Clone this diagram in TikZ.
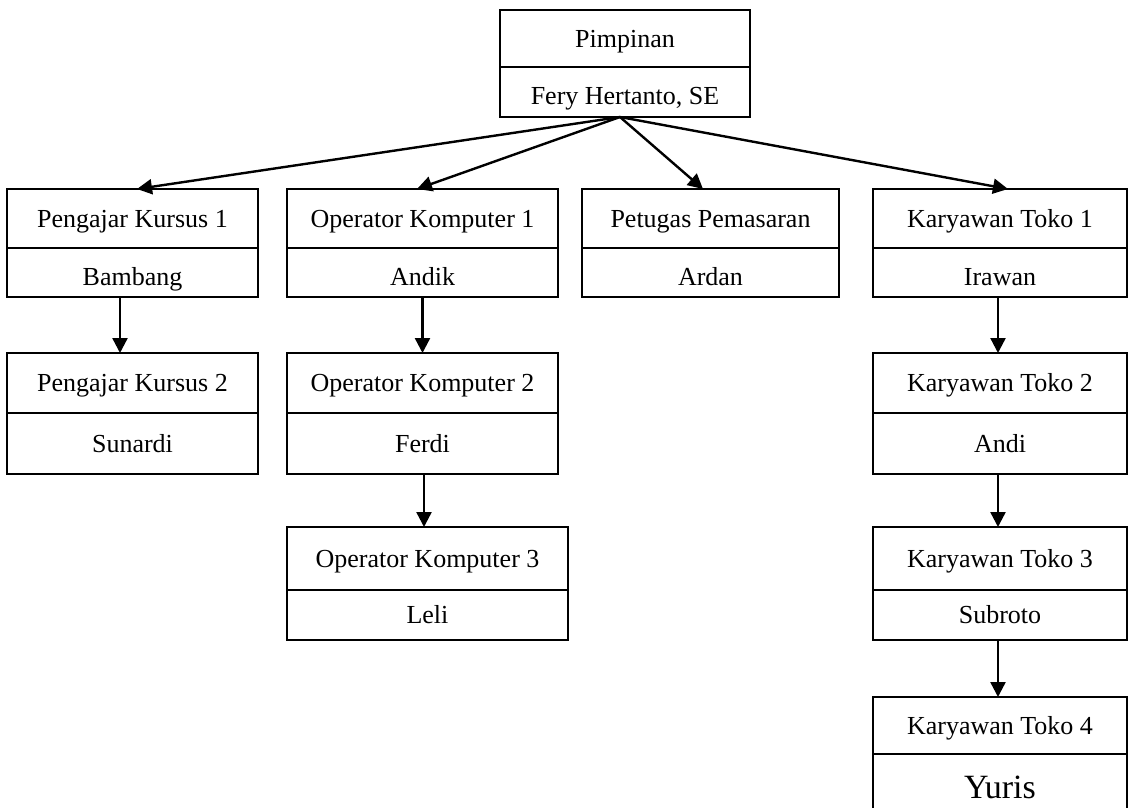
\documentclass[tikz,border=0pt]{standalone}
\usepackage{fontspec}
\setmainfont{Liberation Serif}
\usetikzlibrary{positioning, arrows.meta}
\tikzstyle{jabatan} = [rectangle, minimum height=59pt, inner sep=0pt, outer sep=0pt, text height=17.2pt, text depth=0pt, text centered, draw=black, line width=2pt, fill=white, font=\fontsize{26}{31}\selectfont]
\tikzstyle{nama} = [jabatan, minimum height=49pt]
\tikzstyle{namabawah} = [nama, text height=25pt]
\tikzstyle{kolpimpinan} = [minimum width=250pt]
\tikzstyle{kolkursus} = [minimum width=251pt]
\tikzstyle{kolkomputer} = [minimum width=271pt]
\tikzstyle{kolpemasaran} = [minimum width=257pt]
\tikzstyle{koltoko} = [minimum width=254pt]
\tikzstyle{arrow} = [line width=2.4pt,-{Triangle[length=15pt,width=15pt]}]
\begin{document}
\begin{tikzpicture}[x=1pt, y=1pt]
		\useasboundingbox (0,0) rectangle (1128,-808);
		
		\node (pimpinan) [jabatan, kolpimpinan, minimum height=57pt] at (625,-38.5) {Pimpinan};
		\node (fery) [namabawah, kolpimpinan, minimum height=50pt, below=0pt of pimpinan] {Fery Hertanto, SE};
		
		\node (pk1) [jabatan, kolkursus] at (132.5,-218.5) {Pengajar Kursus 1};
		\node (bambang) [namabawah, kolkursus, below=0pt of pk1] {Bambang};
		\node (ok1) [jabatan, kolkomputer, right=29pt of pk1] {Operator Komputer 1};
		\node (andik) [namabawah, kolkomputer, below=0pt of ok1] {Andik};
		\node (pp) [jabatan, kolpemasaran, right=24pt of ok1] {Petugas Pemasaran};
		\node (ardan) [namabawah, kolpemasaran, below=0pt of pp] {Ardan};
		\node (kt1) [jabatan, koltoko, right=34pt of pp] {Karyawan Toko 1};
		\node (irawan) [namabawah, koltoko, below=0pt of kt1] {Irawan};
		
		\node (pk2) [jabatan, kolkursus, minimum height=60pt, below=56pt of bambang] {Pengajar Kursus 2};
		\node (sunardi) [nama, kolkursus, minimum height=61pt, below=0pt of pk2] {Sunardi};
		\node (ok2) [jabatan, kolkomputer, minimum height=60pt, below=56pt of andik] {Operator Komputer 2};
		\node (ferdi) [nama, kolkomputer, minimum height=61pt, below=0pt of ok2] {Ferdi};
		\node (kt2) [jabatan, koltoko, minimum height=60pt, below=56pt of irawan] {Karyawan Toko 2};
		\node (andi) [nama, koltoko, minimum height=61pt, below=0pt of kt2] {Andi};
		
		\node (ok3) [jabatan, minimum width=281pt, minimum height=63pt, below=53pt of ferdi, xshift=5pt] {Operator Komputer 3};
		\node (leli) [nama, minimum width=281pt, minimum height=50pt, below=0pt of ok3] {Leli};
		\node (kt3) [jabatan, koltoko, minimum height=63pt, below=53pt of andi] {Karyawan Toko 3};
		\node (subroto) [nama, koltoko, minimum height=50pt, below=0pt of kt3] {Subroto};
		
		\node (kt4) [jabatan, koltoko, minimum height=57pt, below=57pt of subroto] {Karyawan Toko 4};
		\node (yuris) [nama, koltoko, minimum height=66pt, text height=22.5pt, font=\fontsize{34}{41}\selectfont, below=0pt of kt4] {Yuris};
		
		\draw [arrow] ([xshift=-5pt]fery.south) -- ([xshift=4.5pt]pk1.north);
		\draw [arrow] ([xshift=-5pt]fery.south) -- ([xshift=-5.5pt]ok1.north);
		\draw [arrow] ([xshift=-5pt]fery.south) -- ([xshift=-7.5pt]pp.north);
		\draw [arrow] ([xshift=-5pt]fery.south) -- ([xshift=8pt]kt1.north);
		
		\draw [arrow] ([xshift=-12.5pt]bambang.south) -- ([xshift=-12.5pt]pk2.north);
		\draw [arrow] (andik.south) -- (ok2.north);
		\draw [arrow] ([xshift=1.5pt]ferdi.south) -- ([xshift=-3.5pt]ok3.north);
		\draw [arrow] ([xshift=-2pt]irawan.south) -- ([xshift=-2pt]kt2.north);
		\draw [arrow] ([xshift=-2pt]andi.south) -- ([xshift=-2pt]kt3.north);
		\draw [arrow] ([xshift=-2pt]subroto.south) -- ([xshift=-2pt]kt4.north);
		
		\end{tikzpicture}
\end{document}
